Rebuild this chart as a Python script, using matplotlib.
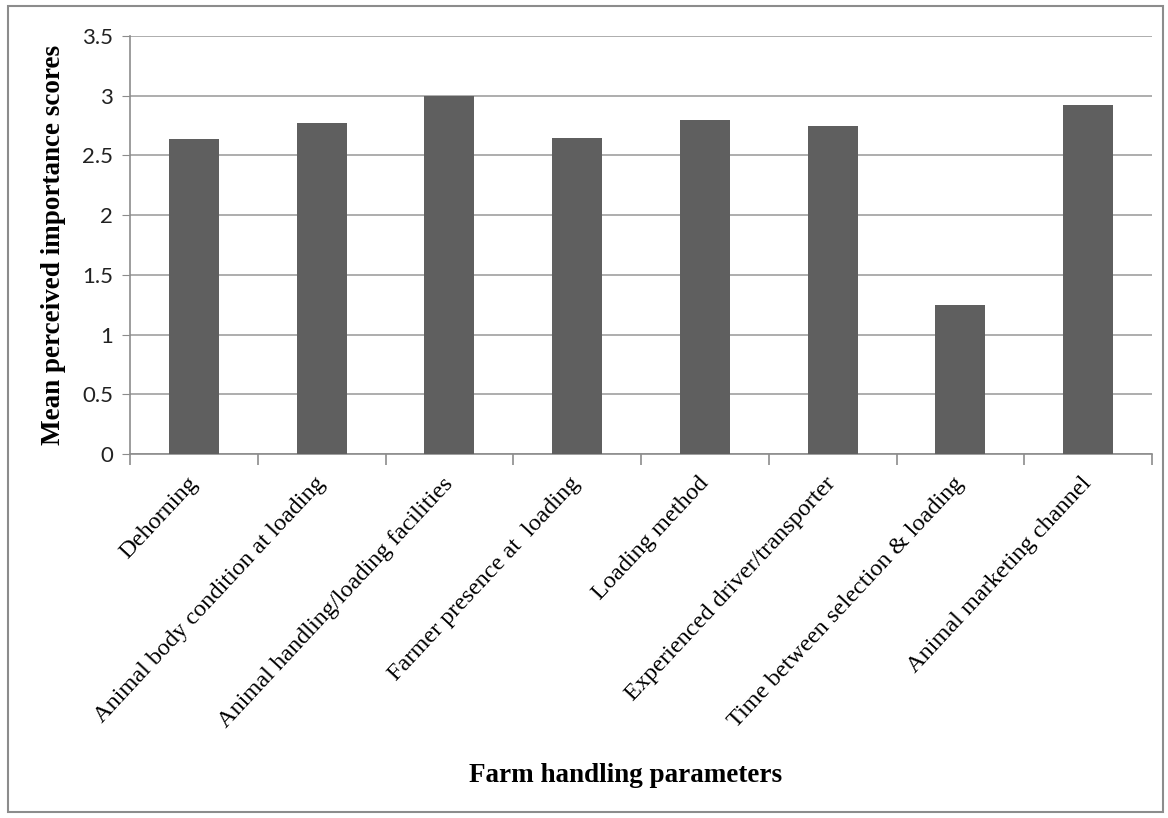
import matplotlib.pyplot as plt
import numpy as np
from matplotlib.patches import Rectangle

categories = ['Dehorning', 'Animal body condition at loading',
              'Animal handling/loading facilities', 'Farmer presence at  loading',
              'Loading method', 'Experienced driver/transporter',
              'Time between selection & loading', 'Animal marketing channel']
scores = [2.64, 2.77, 3.00, 2.65, 2.80, 2.75, 1.25, 2.92]
y_ticks = [0, 0.5, 1, 1.5, 2, 2.5, 3, 3.5]

fig = plt.figure(figsize=(11.68, 8.18), dpi=100)
ax = fig.add_axes([130/1168, 1 - 454/818, (1152-130)/1168, (454-36)/818])

# outer chart-area border
fig.patches.append(Rectangle((8/1168, 1 - 812/818), 1155/1168, 806/818,
                             transform=fig.transFigure, fill=False,
                             edgecolor='#8c8c8c', linewidth=1.5))

x = np.arange(len(categories))
ax.bar(x, scores, width=0.39, color='#5f5f5f', zorder=3)

ax.set_xlim(-0.5, len(categories) - 0.5)
ax.set_ylim(0, 3.5)
ax.set_yticks(y_ticks)
ax.set_yticklabels([f'{v:g}' for v in y_ticks], fontsize=16, family='Lato',
                   color='#222222')
ax.yaxis.grid(True, color='#a0a0a0', linewidth=1.2, zorder=0)
ax.tick_params(axis='y', length=6, color='#8c8c8c', pad=6)

ax.set_xticks(x)
ax.set_xticklabels(categories, rotation=47, ha='right', va='center',
                   rotation_mode='anchor', fontsize=17.5, family='Liberation Serif')
ax.tick_params(axis='x', length=0, pad=19)
ax.set_xticks(np.arange(len(categories) + 1) - 0.5, minor=True)
ax.tick_params(axis='x', which='minor', length=8, color='#8c8c8c', width=1.2)

for s in ['top', 'right']:
    ax.spines[s].set_visible(False)
for s in ['left', 'bottom']:
    ax.spines[s].set_color('#8c8c8c')
    ax.spines[s].set_linewidth(1.2)

ax.set_ylabel('Mean perceived importance scores', fontsize=19.5,
              family='Liberation Serif', fontweight='bold', labelpad=12)
fig.text(626/1168, 1 - 775/818, 'Farm handling parameters', ha='center', va='center',
         fontsize=19.5, family='Liberation Serif', fontweight='bold')

plt.savefig('out.png', dpi=100)
